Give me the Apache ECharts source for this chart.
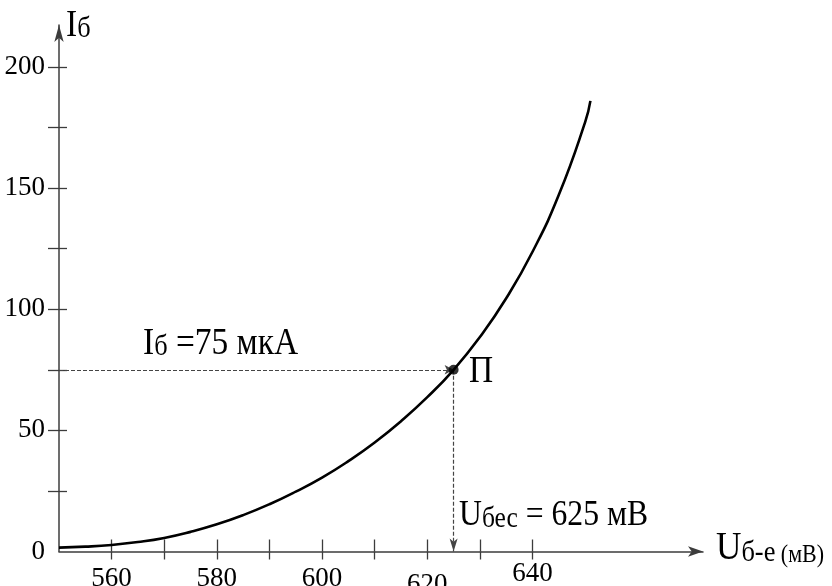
<!DOCTYPE html>
<html>
<head>
<meta charset="utf-8">
<script src="https://cdn.jsdelivr.net/npm/echarts@6/dist/echarts.min.js"></script>
<style>
  html, body { margin: 0; padding: 0; background: #ffffff; }
  #chart { width: 832px; height: 586px; }
</style>
</head>
<body>
<div id="chart"></div>
<script>
// Input characteristic of a transistor: base current Iб (мкА) vs base–emitter voltage Uб-е (мВ)
const voltage = [550, 555, 560, 565, 570, 575, 580, 585, 590, 595, 600, 605, 610, 615, 620, 625, 630, 635, 640, 645, 650, 651];
const current = [1.6, 2.0, 2.7, 3.9, 5.6, 8.1, 11.2, 15.0, 19.5, 24.7, 30.5, 37.3, 45.0, 53.8, 63.7, 75, 88.5, 104.5, 123.7, 147.2, 177.2, 186];

// Operating point П
const opVoltage = 625;
const opCurrent = 75;

// Axis ticks and labels
const xTicks = [560, 570, 580, 590, 600, 610, 620, 630, 640];
const xLabels = [560, 580, 600, 620, 640];
const yTicks = [25, 50, 75, 100, 125, 150, 175, 200];
const yLabels = [0, 50, 100, 150, 200];

const X_MIN = 550, X_MAX = 672.4;
const Y_MIN = 0, Y_MAX = 217.3;

const SERIF = '"Liberation Serif", "Times New Roman", serif';
const AXIS_COLOR = '#3c3c3c';
const DASH_COLOR = '#444444';

const chart = echarts.init(document.getElementById('chart'), null, { renderer: 'canvas' });

// rich token whose baseline sits on the baseline of the main-size text
function tok(size, base) {
  return {
    fontFamily: SERIF,
    fontSize: size,
    fill: '#000',
    verticalAlign: 'bottom',
    lineHeight: 0.6 * size + 0.4 * base
  };
}

// annotation text placed by its left edge and baseline
function note(text, rich, left, baseline, base) {
  return {
    type: 'text',
    x: left,
    y: baseline + 0.2 * base,
    scaleX: 0.88,
    silent: true,
    z: 100,
    style: {
      text: text,
      rich: rich,
      fill: '#000',
      align: 'left',
      verticalAlign: 'bottom'
    }
  };
}

const points = voltage.map((v, i) => [v, current[i]]);

const xLabelRich = {
  mid: { fontFamily: SERIF, fontSize: 27, color: '#000', padding: [5, 0, 0, 0] },
  lo: { fontFamily: SERIF, fontSize: 27, color: '#000', padding: [11, 0, 0, 0] },
  hi: { fontFamily: SERIF, fontSize: 27, color: '#000', padding: [0, 0, 0, 0] }
};

const option = {
  backgroundColor: '#ffffff',
  animation: false,
  grid: {
    left: 59,
    right: 832 - 703,
    top: 25,
    bottom: 586 - 551.5,
    containLabel: false,
    outerBoundsMode: 'none'
  },
  xAxis: [
    {
      type: 'value',
      position: 'bottom',
      min: X_MIN,
      max: X_MAX,
      axisLine: {
        show: true,
        onZero: false,
        symbol: ['none', 'arrow'],
        symbolSize: [8, 15],
        lineStyle: { color: AXIS_COLOR, width: 1.5 }
      },
      axisTick: {
        show: true,
        inside: true,
        length: 12,
        customValues: xTicks,
        lineStyle: { color: AXIS_COLOR, width: 1.3 }
      },
      axisLabel: {
        show: true,
        margin: 9,
        customValues: xLabels,
        fontFamily: SERIF,
        fontSize: 27,
        color: '#000',
        formatter: function (v) {
          if (v === 620) return '{lo|' + v + '}';
          if (v === 640) return '{hi|' + v + '}';
          return '{mid|' + v + '}';
        },
        rich: xLabelRich
      },
      splitLine: { show: false }
    },
    {
      type: 'value',
      position: 'bottom',
      min: X_MIN,
      max: X_MAX,
      axisLine: { show: false, onZero: false },
      axisTick: {
        show: true,
        inside: false,
        length: 8,
        customValues: xTicks,
        lineStyle: { color: AXIS_COLOR, width: 1.3 }
      },
      axisLabel: { show: false },
      splitLine: { show: false }
    }
  ],
  yAxis: [
    {
      type: 'value',
      position: 'left',
      min: Y_MIN,
      max: Y_MAX,
      axisLine: {
        show: true,
        onZero: false,
        symbol: ['none', 'arrow'],
        symbolSize: [7, 17],
        lineStyle: { color: AXIS_COLOR, width: 1.5 }
      },
      axisTick: {
        show: true,
        inside: false,
        length: 11,
        customValues: yTicks,
        lineStyle: { color: AXIS_COLOR, width: 1.3 }
      },
      axisLabel: {
        show: true,
        margin: 14,
        customValues: yLabels,
        fontFamily: SERIF,
        fontSize: 27,
        color: '#000'
      },
      splitLine: { show: false }
    },
    {
      type: 'value',
      position: 'left',
      min: Y_MIN,
      max: Y_MAX,
      axisLine: { show: false, onZero: false },
      axisTick: {
        show: true,
        inside: true,
        length: 8,
        customValues: yTicks,
        lineStyle: { color: AXIS_COLOR, width: 1.3 }
      },
      axisLabel: { show: false },
      splitLine: { show: false }
    }
  ],
  series: [
    {
      name: 'Iб(Uб-е)',
      type: 'line',
      xAxisIndex: 0,
      yAxisIndex: 0,
      data: points,
      smooth: 0.5,
      showSymbol: false,
      symbol: 'none',
      lineStyle: { color: '#000', width: 2.6 },
      z: 5
    },
    {
      name: 'П',
      type: 'scatter',
      xAxisIndex: 0,
      yAxisIndex: 0,
      data: [[opVoltage, opCurrent]],
      symbol: 'circle',
      symbolSize: 10,
      itemStyle: { color: '#000' },
      z: 6,
      markLine: {
        silent: true,
        symbol: ['none', 'arrow'],
        label: { show: false },
        lineStyle: { color: DASH_COLOR, width: 1.2, type: [4, 2] },
        emphasis: { disabled: true },
        data: [
          [
            { coord: [X_MIN, opCurrent], symbol: 'none' },
            { coord: [opVoltage, opCurrent], symbol: 'arrow', symbolSize: [7, 9] }
          ],
          [
            { coord: [opVoltage, opCurrent], symbol: 'none' },
            { coord: [opVoltage, Y_MIN], symbol: 'arrow', symbolSize: [6, 13] }
          ]
        ]
      }
    }
  ],
  graphic: [
    // axis titles
    note('{a|I}{b|б}', { a: tok(38, 38), b: tok(30, 38) }, 66, 37, 38),
    note('{a|U}{b|б-е}{c| (мВ)}', { a: tok(40, 40), b: tok(30, 40), c: tok(25, 40) }, 716, 560, 40),
    // operating point annotations
    note('{a|I}{b|б}{a| =' + opCurrent + ' мкА}', { a: tok(38, 38), b: tok(30, 38) }, 143, 355, 38),
    note('{a|П}', { a: tok(38, 38) }, 469, 383, 38),
    note('{a|U}{b|бес}{a| = ' + opVoltage + ' мВ}', { a: tok(36, 36), b: tok(29, 36) }, 459, 526.7, 36)
  ]
};

chart.setOption(option);
</script>
</body>
</html>
